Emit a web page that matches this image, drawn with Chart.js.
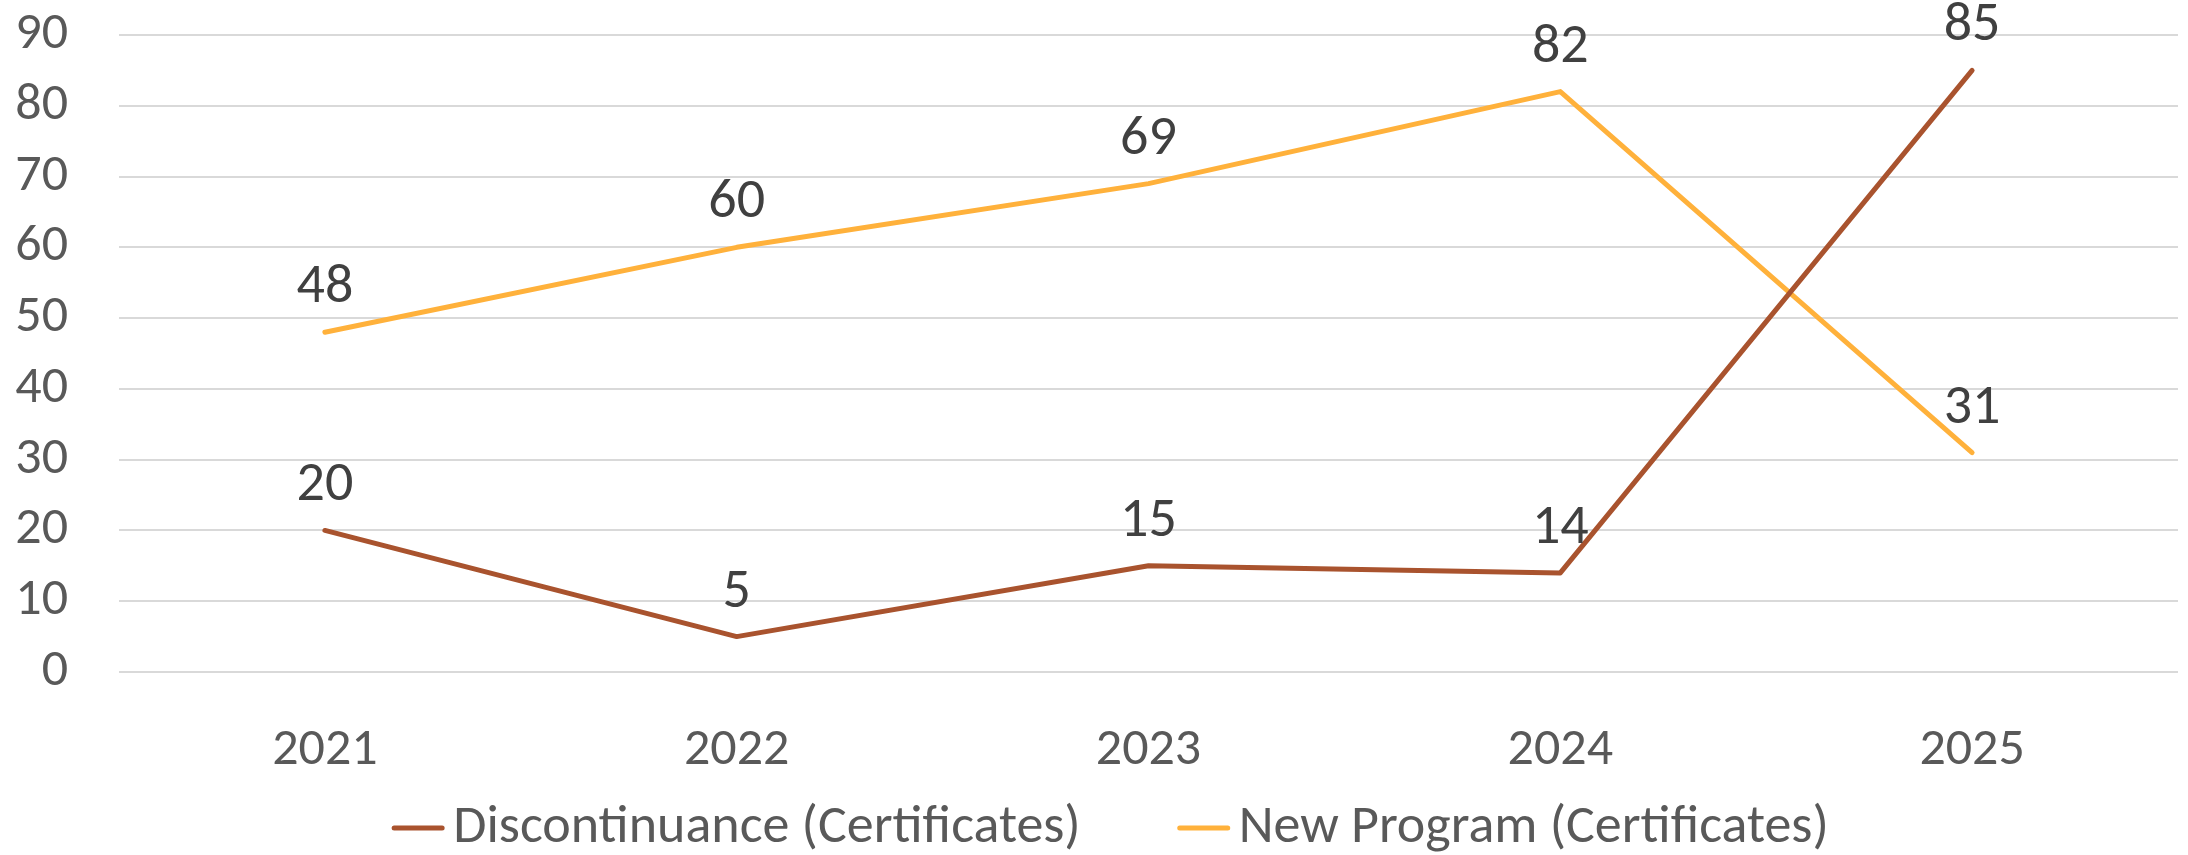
<!DOCTYPE html>
<html>
<head>
<meta charset="utf-8">
<script src="https://cdn.jsdelivr.net/npm/chart.js@4"></script>
<style>
  html, body { margin: 0; padding: 0; background: #fff; }
  #wrap { width: 2188px; height: 855px; }
</style>
</head>
<body>
<div id="wrap"><canvas id="chart"></canvas></div>
<script>
// Certificate programs per year
const years = ['2021', '2022', '2023', '2024', '2025'];
const discontinued = [20, 5, 15, 14, 85];
const newPrograms = [48, 60, 69, 82, 31];
const yTicks = [0, 10, 20, 30, 40, 50, 60, 70, 80, 90];

const FONT = 'Carlito, Lato, sans-serif';
const BROWN = '#A9532E';
const ORANGE = '#FFB13B';

// Value labels above each point
const valueLabels = {
  id: 'valueLabels',
  afterDatasetsDraw(chart) {
    const ctx = chart.ctx;
    ctx.save();
    ctx.font = '56px ' + FONT;
    ctx.fillStyle = '#404040';
    ctx.textAlign = 'center';
    ctx.textBaseline = 'middle';
    chart.data.datasets.forEach((ds, i) => {
      chart.getDatasetMeta(i).data.forEach((pt, j) => {
        ctx.fillText(String(ds.data[j]), pt.x, pt.y - 44);
      });
    });
    ctx.restore();
  }
};

// Legend row at the bottom: short line + series name
const bottomLegend = {
  id: 'bottomLegend',
  afterDraw(chart) {
    const ctx = chart.ctx;
    const lineLen = 54, gap = 8, spacing = 96, y = 828;
    ctx.save();
    ctx.font = '54px ' + FONT;
    ctx.textBaseline = 'middle';
    const items = chart.data.datasets.map(ds => ({
      text: ds.label, color: ds.borderColor, w: ctx.measureText(ds.label).width
    }));
    let total = items.reduce((s, it) => s + lineLen + gap + it.w, 0) + spacing * (items.length - 1);
    let x = chart.width / 2 + 16 - total / 2;
    items.forEach(it => {
      ctx.strokeStyle = it.color;
      ctx.lineWidth = 5;
      ctx.lineCap = 'round';
      ctx.beginPath();
      ctx.moveTo(x + 3, y);
      ctx.lineTo(x + lineLen - 3, y);
      ctx.stroke();
      ctx.fillStyle = '#595959';
      ctx.textAlign = 'left';
      ctx.fillText(it.text, x + lineLen + gap, y);
      x += lineLen + gap + it.w + spacing;
    });
    ctx.restore();
  }
};

new Chart(document.getElementById('chart'), {
  type: 'line',
  data: {
    labels: years,
    datasets: [
      {
        label: 'Discontinuance (Certificates)',
        data: discontinued,
        borderColor: BROWN,
        backgroundColor: BROWN,
        borderWidth: 5,
        pointRadius: 0,
        tension: 0,
        borderCapStyle: 'round',
        borderJoinStyle: 'round'
      },
      {
        label: 'New Program (Certificates)',
        data: newPrograms,
        borderColor: ORANGE,
        backgroundColor: ORANGE,
        borderWidth: 5,
        pointRadius: 0,
        tension: 0,
        borderCapStyle: 'round',
        borderJoinStyle: 'round'
      }
    ]
  },
  options: {
    responsive: true,
    maintainAspectRatio: false,
    animation: false,
    layout: { padding: { top: 35, right: 10, left: 0, bottom: 0 } },
    plugins: {
      legend: { display: false },
      tooltip: { enabled: false }
    },
    scales: {
      x: {
        offset: true,
        grid: { display: false, drawTicks: false },
        border: { display: false },
        ticks: { color: '#595959', font: { family: FONT, size: 52 }, padding: 48 },
        afterFit: scale => { scale.height = 183; }
      },
      y: {
        min: yTicks[0],
        max: yTicks[yTicks.length - 1],
        afterBuildTicks: scale => { scale.ticks = yTicks.map(v => ({ value: v })); },
        grid: { color: '#d9d9d9', lineWidth: 2, drawTicks: false },
        border: { display: false },
        ticks: { color: '#595959', font: { family: FONT, size: 52 }, padding: 51 },
        afterFit: scale => {
          scale.width = 119;
          // labels may overhang the plot top; the layout padding covers it
          scale.paddingTop = 0;
          scale.paddingBottom = 0;
        }
      }
    }
  },
  plugins: [valueLabels, bottomLegend]
});
</script>
</body>
</html>
